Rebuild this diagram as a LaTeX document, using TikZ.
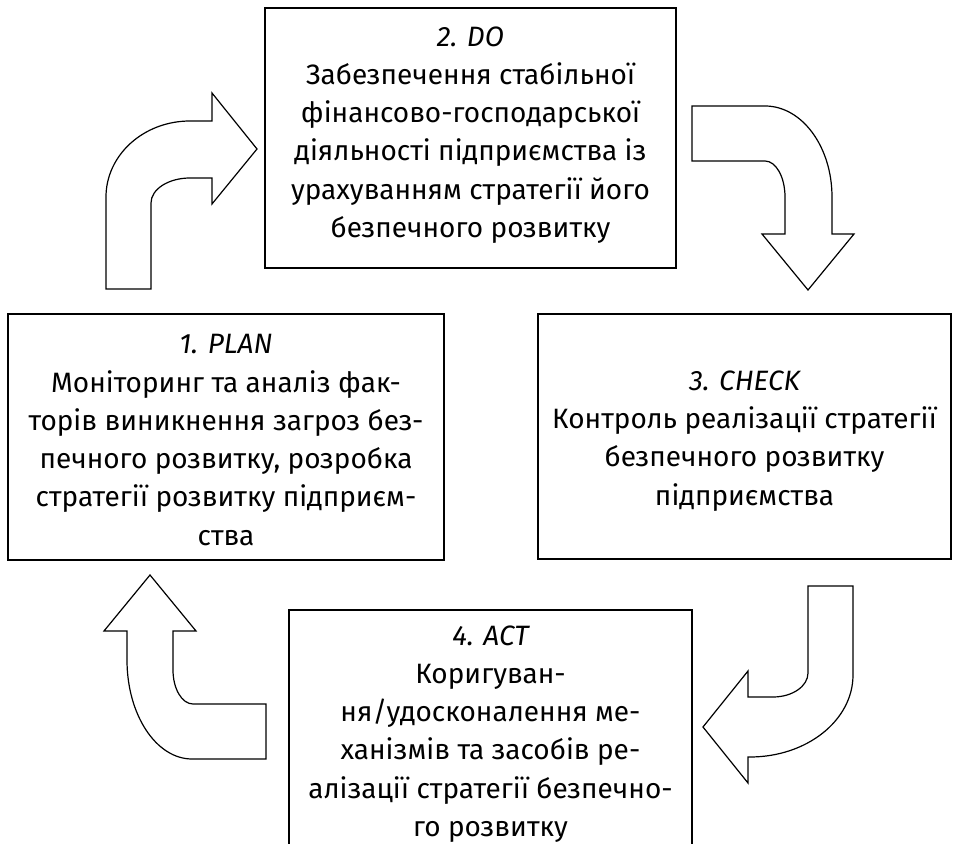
\documentclass[tikz,border=0pt]{standalone}
\usepackage{fontspec}
\setmainfont{Fira Sans}
\begin{document}
\begin{tikzpicture}[x=1pt,y=1pt,
  box/.style={draw, line width=1.6pt, rectangle, inner sep=0pt},
  txt/.style={align=center, font=\fontsize{28}{38.3}\selectfont, inner sep=0pt},
  bendarrow/.style={draw, line width=1.2pt, fill=white, line join=miter}]
\useasboundingbox (0,0) rectangle (954,844);
\clip (0,0) rectangle (954,844);
% boxes
\node[box, minimum width=411pt, minimum height=260pt] (do) at (470.5,706) {};
\node[box, minimum width=436pt, minimum height=246pt] (plan) at (226,407) {};
\node[box, minimum width=413pt, minimum height=245pt] (check) at (744.5,407.5) {};
\node[box, minimum width=403pt, minimum height=260pt] (act) at (490.5,104) {};
% texts
\node[txt] (dotxt) at (470.5,709) {{\itshape 2. DO}\\Забезпечення стабільної\\фінансово-господарської\\діяльності підприємства із\\урахуванням стратегії його\\безпечного розвитку};
\node[txt] (plantxt) at (226,404) {{\itshape 1. PLAN}\\Моніторинг та аналіз фак-\\торів виникнення загроз без-\\печного розвитку, розробка\\стратегії розвитку підприєм-\\ства};
\node[txt] (checktxt) at (744.5,403) {{\itshape 3. CHECK}\\Контроль реалізації стратегії\\безпечного розвитку\\підприємства};
\node[txt] (acttxt) at (490.5,110) {{\itshape 4. ACT}\\Коригуван-\\ня/удосконалення ме-\\ханізмів та засобів ре-\\алізації стратегії безпечно-\\го розвитку};
% curved block arrows
\draw[bendarrow] (106,555) -- (106,647) arc[start angle=180,end angle=90,x radius=84pt,y radius=76pt] -- (212,723) -- (212,751) -- (257,695) -- (212,640) -- (212,666) -- (190,666) arc[start angle=90,end angle=180,x radius=39pt,y radius=25pt] -- (151,555) -- cycle;
\draw[bendarrow] (692,738) -- (765,738) arc[start angle=90,end angle=0,x radius=67pt,y radius=91pt] -- (832,610) -- (854,610) -- (808,554) -- (762,610) -- (785,610) -- (785,647) arc[start angle=0,end angle=90,x radius=20pt,y radius=36pt] -- (692,683) -- cycle;
\draw[bendarrow] (808,258) -- (853,258) -- (853,169) arc[start angle=0,end angle=-90,x radius=103pt,y radius=82pt] -- (748,87) -- (748,61) -- (703,117) -- (748,173) -- (748,147) -- (773,147) arc[start angle=-90,end angle=0,x radius=35pt,y radius=24pt] -- cycle;
\draw[bendarrow] (266,140) -- (266,85) -- (192,85) arc[start angle=270,end angle=180,x radius=65pt,y radius=99pt] -- (127,213) -- (104,213) -- (150,269) -- (196,213) -- (173,213) -- (173,174) arc[start angle=180,end angle=270,x radius=20pt,y radius=34pt] -- cycle;
\end{tikzpicture}
\end{document}
